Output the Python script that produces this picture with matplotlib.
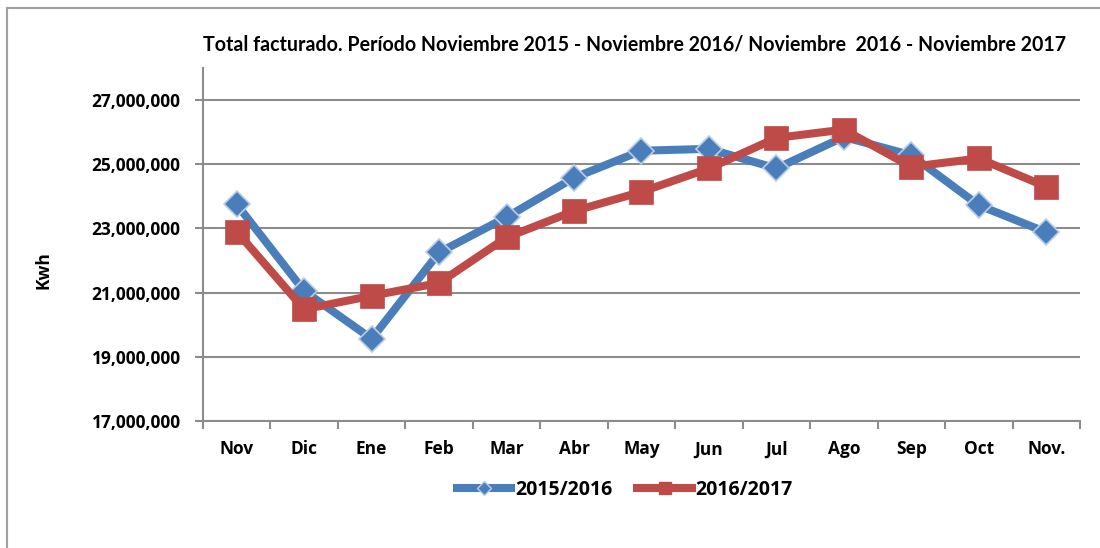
import matplotlib
matplotlib.use("Agg")
import matplotlib.pyplot as plt
from matplotlib.lines import Line2D
from matplotlib.ticker import FuncFormatter, FixedLocator

months = ["Nov", "Dic", "Ene", "Feb", "Mar", "Abr", "May", "Jun", "Jul", "Ago", "Sep", "Oct", "Nov."]
kwh_2015_2016 = [23750000, 21050000, 19560000, 22250000, 23350000, 24580000, 25420000,
                 25480000, 24870000, 25850000, 25280000, 23720000, 22880000]
kwh_2016_2017 = [22900000, 20480000, 20900000, 21300000, 22720000, 23540000, 24140000,
                 24870000, 25820000, 26080000, 24920000, 25180000, 24300000]
yticks = [17000000, 19000000, 21000000, 23000000, 25000000, 27000000]

blue = "#4A7EBB"
red = "#BE4B48"
grid_col = "#8C8C8C"
tick_font = ["Open Sans", "DejaVu Sans"]
title_font = ["Lato", "DejaVu Sans"]

fig = plt.figure(figsize=(11, 5.48), dpi=100)
ax = fig.add_axes([0.1845, 0.2318, 0.7973, 0.6442])

x = list(range(len(months)))
ax.plot(x, kwh_2015_2016, color=blue, lw=5.8, marker="D", ms=13,
        mfc=blue, mec="#B9CDE5", mew=1.2, zorder=3)
ax.plot(x, kwh_2016_2017, color=red, lw=5.8, marker="s", ms=17,
        mfc=red, mec=red, mew=0.5, zorder=4)

ax.set_xlim(-0.5, len(months) - 0.5)
ax.set_ylim(17000000, 28000000)
ax.set_yticks(yticks)
ax.yaxis.set_major_formatter(FuncFormatter(lambda v, p: f"{int(v):,}"))
ax.grid(axis="y", color=grid_col, lw=1.5)
ax.set_axisbelow(True)

# category labels centered, tick marks on category boundaries
ax.set_xticks(x)
ax.set_xticklabels(months)
ax.tick_params(axis="x", which="major", length=0, pad=14)
ax.xaxis.set_minor_locator(FixedLocator([i - 0.5 for i in range(len(months) + 1)]))
ax.tick_params(axis="x", which="minor", length=6, width=1.5, color=grid_col, direction="out")
ax.tick_params(axis="y", length=6, width=1.5, color=grid_col, pad=10)

for lab in ax.get_xticklabels() + ax.get_yticklabels():
    lab.set_fontfamily(tick_font)
    lab.set_fontweight("bold")
    lab.set_fontsize(12.5)

for side in ["top", "right"]:
    ax.spines[side].set_visible(False)
for side in ["left", "bottom"]:
    ax.spines[side].set_color(grid_col)
    ax.spines[side].set_linewidth(1.5)

ax.set_ylabel("Kwh", fontfamily=tick_font, fontweight="bold", fontsize=12.5, labelpad=0)
ax.yaxis.set_label_coords(-0.172, 0.428)

fig.text(0.577, 0.918, "Total facturado. Período Noviembre 2015 - Noviembre 2016/ Noviembre  2016 - Noviembre 2017",
         ha="center", va="center", fontfamily=title_font, fontweight="bold", fontsize=14.1)

handles = [
    Line2D([], [], color=blue, lw=5.8, marker="D", ms=7, mfc=blue, mec="#B9CDE5", mew=1.0),
    Line2D([], [], color=red, lw=5.8, marker="s", ms=9, mfc=red, mec=red),
]
ax.legend(handles, ["2015/2016", "2016/2017"], loc="center", bbox_to_anchor=(0.481, -0.195),
          ncol=2, frameon=False, handlelength=2.8, handletextpad=0.2, columnspacing=1.3,
          prop={"family": tick_font, "weight": "bold", "size": 14})

# outer chart border
fig.add_artist(Line2D([0.0064, 0.0064], [0.0, 0.985], color="#A0A0A0", lw=1.5))
fig.add_artist(Line2D([0.0064, 1.0], [0.985, 0.985], color="#A0A0A0", lw=1.5))

fig.savefig("out.png", dpi=100)
